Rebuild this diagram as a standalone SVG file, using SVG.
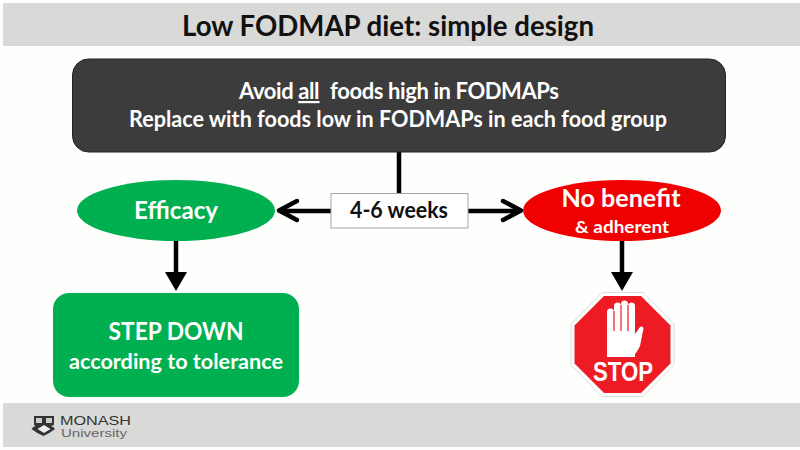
<svg xmlns="http://www.w3.org/2000/svg" width="800" height="450" viewBox="0 0 800 450">
<defs>
<style>
text{font-family:Lato,"Liberation Sans",sans-serif;font-weight:700;text-anchor:middle}
.w{fill:#fff}
.k{fill:#111}
.c{fill:none;stroke:#000;stroke-width:4.5}
.h{fill:none;stroke:#000;stroke-width:4.5;stroke-linecap:round;stroke-linejoin:round}
.u{font-family:"Liberation Sans",sans-serif;font-weight:400;text-anchor:start}
</style>
</defs>
<rect width="800" height="450" fill="#fefefc"/>
<g id="header">
<rect x="3" y="3" width="797" height="43" fill="#d9d9d7"/>
<text class="k" x="388" y="36" font-size="28.500" textLength="412" lengthAdjust="spacingAndGlyphs">Low FODMAP diet: simple design</text>
</g>
<g id="footer">
<rect x="3" y="403" width="797" height="44" fill="#d9d9d7"/>
<path d="M34 416h20v9l-3 1q3 1 4 3q-5 4-11.500 7q-7-3-12-7q1-2 4-3l-1.500-1z" fill="#333"/>
<path d="M36 418h6v5h-6zM46 418h6v5h-6z" fill="#ccc"/>
<path d="M37.500 429l6.500-4l6.500 4l-6.500 4z" fill="#eee"/>
<text class="u" x="60" y="424.500" font-size="12.500" fill="#333" textLength="71" lengthAdjust="spacingAndGlyphs">MONASH</text>
<text class="u" x="61" y="436.500" font-size="11" fill="#666" textLength="66" lengthAdjust="spacingAndGlyphs">University</text>
</g>
<g id="connectors">
<path class="c" d="M399 152V194"/>
<path class="c" d="M331 211H280"/>
<path class="h" d="M297 201L279 210.500L297 220"/>
<path class="c" d="M468 211H520"/>
<path class="h" d="M503 201L521 210.500L503 220"/>
<path class="c" d="M176 241V286"/>
<path d="M165 272H187L176 291z" fill="#000"/>
<path class="c" d="M622 241V286"/>
<path d="M611 272H633L622 291z" fill="#000"/>
</g>
<g id="avoid">
<rect x="72.500" y="59" width="653" height="93" rx="16" fill="#3c3c3c" stroke="#222" stroke-width="1"/>
<text class="w" x="239" y="99" font-size="22" style="text-anchor:start" textLength="320" lengthAdjust="spacing">Avoid <tspan text-decoration="underline">all</tspan><tspan dx="6"> foods high in FODMAPs</tspan></text>
<text class="w" x="398" y="127" font-size="22" textLength="538" lengthAdjust="spacingAndGlyphs">Replace with foods low in FODMAPs in each food group</text>
</g>
<g id="weeks">
<rect x="331" y="193.500" width="137" height="34.500" fill="#fff" stroke="#a6a6a6" stroke-width="1"/>
<text class="k" x="399" y="218" font-size="22" textLength="98" lengthAdjust="spacingAndGlyphs">4-6 weeks</text>
</g>
<g id="efficacy">
<ellipse cx="176" cy="210.500" rx="99" ry="30.500" fill="#00b050"/>
<text class="w" x="176" y="219" font-size="24" textLength="84" lengthAdjust="spacingAndGlyphs">Efficacy</text>
</g>
<g id="nobenefit">
<ellipse cx="622" cy="210.500" rx="99" ry="30.500" fill="#f00000"/>
<text class="w" x="621" y="207" font-size="24.500" textLength="119" lengthAdjust="spacingAndGlyphs">No benefit</text>
<text class="w" x="622" y="233" font-size="17" textLength="94" lengthAdjust="spacingAndGlyphs">&amp; adherent</text>
</g>
<g id="stepdown">
<rect x="53" y="293" width="246" height="104" rx="16" fill="#00b050"/>
<text class="w" x="176" y="340" font-size="24.500" textLength="135" lengthAdjust="spacingAndGlyphs">STEP DOWN</text>
<text class="w" x="176" y="369" font-size="21" textLength="214" lengthAdjust="spacingAndGlyphs">according to tolerance</text>
</g>
<g id="stop">
<path d="M602 292.500H643L674 324V365L643 396.500H602L571 365V324z" fill="#fff" stroke="#ddd" stroke-width="1"/>
<path d="M604 296H641L670.500 325.500V363.500L641 393H604L574.500 363.500V325.500z" fill="#ed1c24"/>
<path d="M607 357V312a3.500 3.500 0 0 1 7 0V306a3.500 3.500 0 0 1 7 0V304a3.500 3.500 0 0 1 7 0V306a3.500 3.500 0 0 1 7 0V334L640 327a2.500 2.500 0 0 1 3.500 1.500L640 346Q637 352 635 354V357z" fill="#fff"/>
<path d="M614 311V331M621 305V331M628 305V331" stroke="#ed1c24" stroke-width="1.200" fill="none"/>
<text class="w" x="623" y="381" font-size="27" textLength="60" lengthAdjust="spacingAndGlyphs" style="font-family:'Liberation Sans',sans-serif">STOP</text>
</g>
</svg>
